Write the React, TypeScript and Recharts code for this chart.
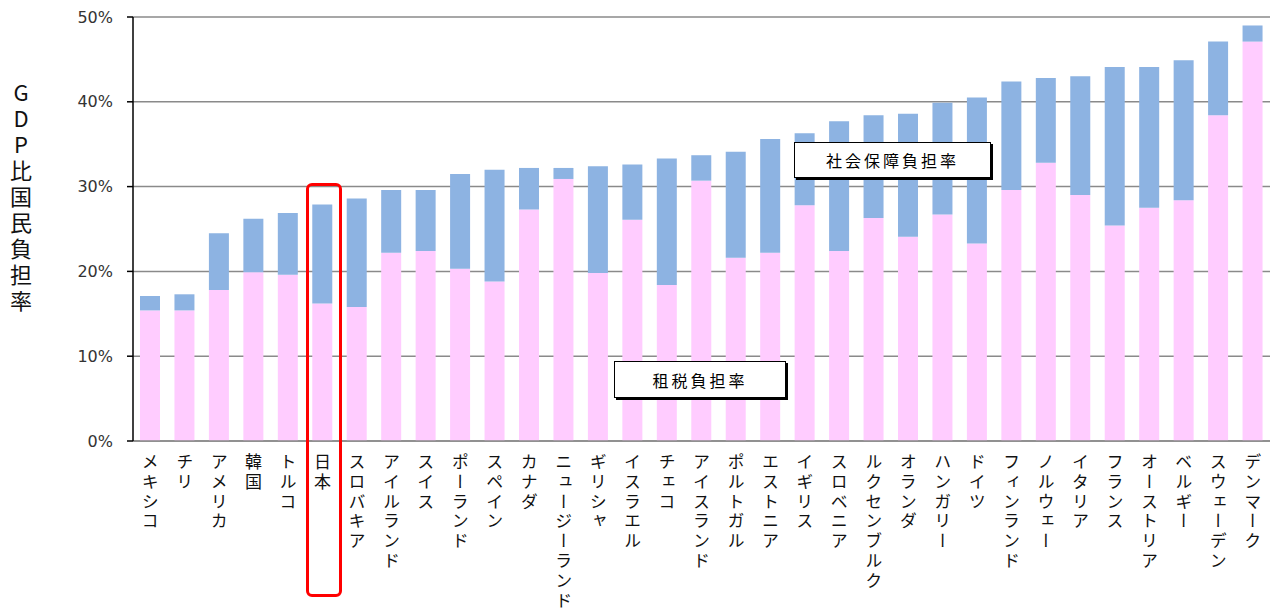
import { BarChart, Bar, XAxis, YAxis, CartesianGrid } from "recharts";

const countries = [
  "メキシコ", "チリ", "アメリカ", "韓国", "トルコ", "日本", "スロバキア", "アイルランド",
  "スイス", "ポーランド", "スペイン", "カナダ", "ニュージーランド", "ギリシャ", "イスラエル",
  "チェコ", "アイスランド", "ポルトガル", "エストニア", "イギリス", "スロベニア",
  "ルクセンブルク", "オランダ", "ハンガリー", "ドイツ", "フィンランド", "ノルウェー",
  "イタリア", "フランス", "オーストリア", "ベルギー", "スウェーデン", "デンマーク",
];

// 租税負担率 (%)
const taxBurden = [
  15.4, 15.4, 17.8, 19.9, 19.6, 16.2, 15.8, 22.2, 22.4, 20.3, 18.8, 27.3, 30.9, 19.8, 26.1,
  18.4, 30.7, 21.6, 22.2, 27.8, 22.4, 26.3, 24.1, 26.7, 23.3, 29.6, 32.8, 29.0, 25.4, 27.5,
  28.4, 38.4, 47.1,
];

// 社会保障負担率 (%)
const socialBurden = [
  1.7, 1.9, 6.7, 6.3, 7.3, 11.7, 12.8, 7.4, 7.2, 11.2, 13.2, 4.9, 1.3, 12.6, 6.5,
  14.9, 3.0, 12.5, 13.4, 8.5, 15.3, 12.1, 14.5, 13.2, 17.2, 12.8, 10.0, 14.0, 18.7, 16.6,
  16.5, 8.7, 1.9,
];

const yTicks = [0, 10, 20, 30, 40, 50];

const data = countries.map((name, i) => ({
  name,
  tax: taxBurden[i],
  social: socialBurden[i],
}));

const jpFont = '"Noto Sans CJK JP", sans-serif';

const VerticalTick = ({ x, y, payload }: any) => (
  <text
    x={x}
    y={y + 4}
    fill="#111"
    fontSize={17}
    fontFamily={jpFont}
    letterSpacing={2.8}
    style={{ writingMode: "vertical-rl" }}
  >
    {payload.value}
  </text>
);

const noteBox = (left: number, top: number, width: number, height: number, text: string) => (
  <div
    style={{
      position: "absolute",
      left,
      top,
      width,
      height,
      boxSizing: "border-box",
      border: "1px solid #000",
      boxShadow: "2px 2px 0 #000",
      background: "#fff",
      display: "flex",
      alignItems: "center",
      justifyContent: "center",
      fontFamily: jpFont,
      fontSize: 16,
      letterSpacing: 3,
      color: "#000",
    }}
  >
    {text}
  </div>
);

export default function App() {
  return (
    <div style={{ position: "absolute", left: 0, top: 0, width: 1270, height: 608, background: "#fff" }}>
      <BarChart
        width={1270}
        height={608}
        data={data}
        margin={{ top: 17, right: 0, left: 0, bottom: 7 }}
        barSize={20}
      >
        <CartesianGrid vertical={false} stroke="#8a8a8a" strokeWidth={1.5} />
        <XAxis
          dataKey="name"
          interval={0}
          height={160}
          tickLine={false}
          axisLine={{ stroke: "#8a8a8a", strokeWidth: 1.5 }}
          tick={<VerticalTick />}
        />
        <YAxis
          width={133}
          domain={[0, 50]}
          ticks={yTicks}
          tickFormatter={(v) => `${v}%`}
          axisLine={{ stroke: "#000", strokeWidth: 1.5 }}
          tickLine={{ stroke: "#000", strokeWidth: 1.5 }}
          tickSize={6}
          tickMargin={14}
          tick={{ fontSize: 16, fill: "#333", fontFamily: "DejaVu Sans, sans-serif" }}
        />
        <Bar dataKey="tax" stackId="a" fill="#ffccff" isAnimationActive={false} />
        <Bar dataKey="social" stackId="a" fill="#8db3e2" isAnimationActive={false} />
      </BarChart>

      <div
        style={{
          position: "absolute",
          left: 10,
          top: 82,
          writingMode: "vertical-rl",
          textOrientation: "upright",
          fontFamily: jpFont,
          fontSize: 22,
          letterSpacing: 4,
          lineHeight: 1,
          color: "#111",
        }}
      >
        GDP比国民負担率
      </div>

      {noteBox(794, 142, 197, 36, "社会保障負担率")}
      {noteBox(614, 361, 172, 37, "租税負担率")}

      <div
        style={{
          position: "absolute",
          left: 306,
          top: 183,
          width: 36,
          height: 414,
          boxSizing: "border-box",
          border: "3px solid #ff0000",
          borderRadius: 6,
        }}
      />
    </div>
  );
}
